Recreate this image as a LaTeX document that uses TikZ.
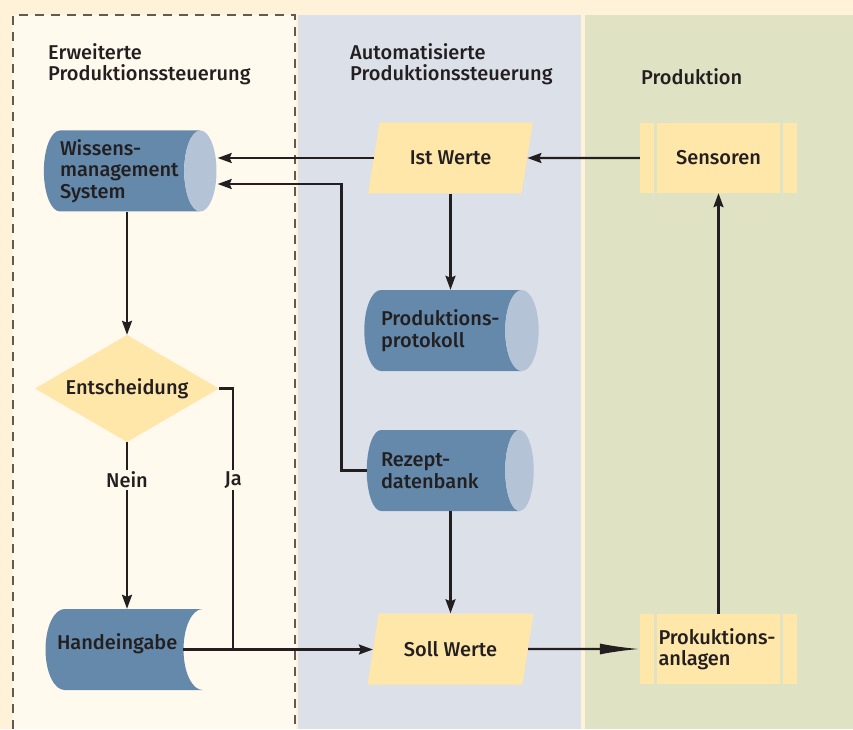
\documentclass[tikz,border=0pt]{standalone}
\usepackage{fontspec}
\setmainfont{Fira Sans}[UprightFont={* Medium}]
\usetikzlibrary{shapes.geometric, arrows.meta, calc}

\definecolor{pagebg}{HTML}{FFF2D9}
\definecolor{leftbg}{HTML}{FFF9EE}
\definecolor{midbg}{HTML}{DCE0E9}
\definecolor{rightbg}{HTML}{DFE3C3}
\definecolor{boxyellow}{HTML}{FFE6A9}
\definecolor{cylbody}{HTML}{6489AB}
\definecolor{cylend}{HTML}{B5C3D6}
\definecolor{ink}{HTML}{231F20}
\definecolor{dashgray}{HTML}{5F5A55}

\begin{document}
\begin{tikzpicture}[x=1pt, y=-1pt, font=\fontsize{20}{21.5}\selectfont, text=ink,
    every node/.style={inner sep=0pt},
    head/.style={anchor=north west, align=left},
    cyl/.style={cylinder, shape aspect=0.8, cylinder uses custom fill,
      cylinder body fill=cylbody, cylinder end fill=cylend,
      minimum width=81, text width=124, align=left},
    parallel/.style={trapezium, trapezium left angle=65, trapezium right angle=115,
      trapezium stretches=true, fill=boxyellow, minimum width=166, minimum height=71},
    procbox/.style={rectangle, fill=boxyellow, minimum width=157, minimum height=70,
      path picture={
        \draw[rightbg, line width=3pt]
          ([xshift=15.5pt]path picture bounding box.north west) -- ([xshift=15.5pt]path picture bounding box.south west)
          ([xshift=-15.5pt]path picture bounding box.north east) -- ([xshift=-15.5pt]path picture bounding box.south east);
      }},
    decision/.style={diamond, shape aspect=1.72, fill=boxyellow, minimum width=184, minimum height=107},
    manual/.style={rectangle, minimum width=157, minimum height=81, text width=134, align=left,
      text height=14pt, text depth=14pt,
      path picture={
        \fill[cylbody] ($(path picture bounding box.north west)+(19,0)$) -- (path picture bounding box.north east)
          .. controls +(-10.5,0) and +(0,-22.4) .. ($(path picture bounding box.east)+(-19,0)$)
          .. controls +(0,22.4) and +(-10.5,0) .. (path picture bounding box.south east)
          -- ($(path picture bounding box.south west)+(19,0)$)
          .. controls +(-10.5,0) and +(0,22.4) .. (path picture bounding box.west)
          .. controls +(0,-22.4) and +(-10.5,0) .. ($(path picture bounding box.north west)+(19,0)$) -- cycle;
      }},
    lbl/.style={fill=leftbg, inner sep=2pt},
    wire/.style={draw=ink, line width=2.2pt},
    flow/.style={wire, -{Stealth[length=14pt,width=10pt,inset=2pt]}}
  ]

  % columns
  \fill[pagebg] (0,0) rectangle (853,729);
  \fill[leftbg] (13,15) rectangle (296,729);
  \fill[midbg] (298,15) rectangle (581,729);
  \fill[rightbg] (585,15) rectangle (853,729);
  \draw[dashgray, line width=1.2pt, dash pattern=on 9pt off 7pt]
    (13,729) -- (13,15) -- (295,15) -- (295,729);

  \node[head] at (48,43) {Erweiterte\\Produktionssteuerung};
  \node[head] at (350,43) {Automatisierte\\Produktionssteuerung};
  \node[head] at (641,68) {Produktion};

  % left column
  \node[cyl, shape aspect=0.51] (wissen) at (122,171) {Wissens-\\management\\System};
  \node[decision] (entsch) at (127,388.5) {Entscheidung};
  \node[manual] (hand) at (124,649.5) {Handeingabe};

  % middle column
  \node[parallel] (ist) at (450.5,158) {Ist Werte};
  \node[cyl] (proto) at (443,330.5) {Produktions-\\protokoll};
  \node[cyl] (rezept) at (443,470.5) {Rezept-\\datenbank};
  \node[parallel] (soll) at (450.5,649) {Soll Werte};

  % right column
  \node[procbox] (sens) at (718.5,158) {Sensoren};
  \node[procbox, text width=120, align=left] (anl) at (718.5,649) {Prokuktions-\\anlagen};

  % connectors
  \draw[flow] (sens) -- (ist);
  \draw[flow, shorten >=1pt] (ist.west) -- (ist.west -| wissen.east);
  \draw[flow, shorten >=1pt] (rezept.west) -- ++(-25,0) |- ([yshift=-13pt]wissen.east);
  \draw[flow] (ist.center |- ist.south) -- (ist.center |- proto.north);
  \draw[flow] (rezept.south -| soll.center) -- (soll.center |- soll.north);
  \draw[flow] (wissen.south -| entsch.north) -- (entsch.north);
  \draw[flow] (entsch.south) -- (entsch.south |- hand.north);
  \draw[wire] (entsch.east) -- ++(14,0) coordinate (ja) -- (ja |- hand.east);
  \draw[flow] ([xshift=-20pt]hand.east) -- (hand.east -| soll.west);
  \draw[wire, -{Latex[length=40pt,width=11pt]}] (soll) -- (anl);
  \draw[flow] (anl) -- (sens);

  \node[lbl] (nein) at (127,480) {Nein};
  \node[lbl] at (ja |- nein) {Ja};
\end{tikzpicture}
\end{document}
